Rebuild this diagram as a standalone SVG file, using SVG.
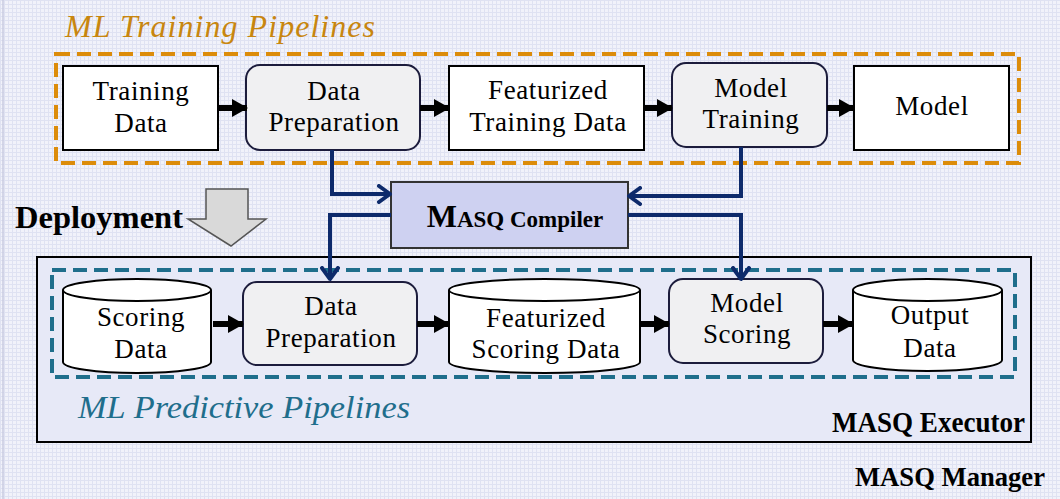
<svg xmlns="http://www.w3.org/2000/svg" width="1060" height="499" viewBox="0 0 1060 499">
<defs>
<pattern id="grid" width="4" height="4" patternUnits="userSpaceOnUse">
<rect width="4" height="4" fill="#f1f2fa"/>
<path d="M0 0.5H4M0.5 0V4" stroke="#dfe2f2" stroke-width="1"/>
</pattern>
<marker id="blk" viewBox="0 0 16 18" refX="15" refY="9" markerWidth="16" markerHeight="18" orient="auto" markerUnits="userSpaceOnUse">
<path d="M0 0L16 9L0 18Z" fill="#000"/>
</marker>
<marker id="nav" viewBox="0 0 16 20" refX="13" refY="10" markerWidth="16" markerHeight="20" orient="auto" markerUnits="userSpaceOnUse">
<path d="M2 2L13 10L2 18" fill="none" stroke="#0d2a6b" stroke-width="4" stroke-linecap="round" stroke-linejoin="round"/>
</marker>
</defs>
<style>
.lbl{font-family:"Liberation Serif",serif;font-size:27px;fill:#000;text-anchor:middle;letter-spacing:0.6px}
.box{fill:#fff;stroke:#000;stroke-width:2}
.rnd{fill:#f0f0f2;stroke:#1c1c3c;stroke-width:2}
.cyl{fill:#fff;stroke:#000;stroke-width:2}
.flow{stroke:#000;stroke-width:6;fill:none;marker-end:url(#blk)}
.nv{stroke:#0d2a6b;stroke-width:4;fill:none;marker-end:url(#nav)}
.bold{font-family:"Liberation Serif",serif;font-weight:bold;fill:#000}
</style>
<rect width="1060" height="499" fill="url(#grid)"/>
<line x1="3" y1="0" x2="3" y2="499" stroke="#c8cbe0" stroke-width="1.5"/>

<g id="executor">
<rect x="37" y="257" width="994" height="185" fill="#e7e9f7" stroke="#000" stroke-width="2"/>
<text class="bold" x="832" y="432" font-size="30" textLength="193" lengthAdjust="spacingAndGlyphs">MASQ Executor</text>
</g>
<g id="manager-label">
<text class="bold" x="855" y="486" font-size="28" textLength="190" lengthAdjust="spacingAndGlyphs">MASQ Manager</text>
</g>

<g id="training-pipelines">
<rect x="56" y="54" width="963" height="109" fill="none" stroke="#dc8c0a" stroke-width="4" stroke-dasharray="14,7"/>
<text x="65" y="37" font-family="Liberation Serif,serif" font-style="italic" font-size="32" fill="#c8860f" textLength="310" lengthAdjust="spacing">ML Training Pipelines</text>
</g>
<g id="predictive-pipelines">
<rect x="52" y="270" width="963" height="107" fill="none" stroke="#1f6e8c" stroke-width="4" stroke-dasharray="14,7"/>
<text x="78" y="418" font-family="Liberation Serif,serif" font-style="italic" font-size="32" fill="#1f6e8c" textLength="332" lengthAdjust="spacingAndGlyphs">ML Predictive Pipelines</text>
</g>

<g id="training-data">
<rect class="box" x="63" y="66" width="155" height="84"/>
<text class="lbl" x="141" y="100">Training</text>
<text class="lbl" x="141" y="132">Data</text>
</g>
<g id="data-prep-train">
<rect class="rnd" x="246" y="65" width="174" height="85" rx="14"/>
<text class="lbl" x="334" y="100">Data</text>
<text class="lbl" x="334" y="131">Preparation</text>
</g>
<g id="feat-train">
<rect class="box" x="449" y="66" width="195" height="84"/>
<text class="lbl" x="548" y="99">Featurized</text>
<text class="lbl" x="548" y="131">Training Data</text>
</g>
<g id="model-training">
<rect class="rnd" x="672" y="63" width="155" height="84" rx="14"/>
<text class="lbl" x="751" y="97">Model</text>
<text class="lbl" x="751" y="128">Training</text>
</g>
<g id="model">
<rect class="box" x="854" y="66" width="155" height="84"/>
<text class="lbl" x="932" y="115">Model</text>
</g>

<g id="compiler">
<rect x="391" y="182" width="237" height="66" fill="#ced1f1" stroke="#333" stroke-width="2"/>
<text class="bold" x="515" y="227" text-anchor="middle"><tspan font-size="32">M</tspan><tspan font-size="23">ASQ Compiler</tspan></text>
</g>

<g id="deployment">
<text x="15" y="228" font-family="Liberation Serif,serif" font-weight="bold" font-size="31" fill="#000" textLength="168" lengthAdjust="spacingAndGlyphs">Deployment</text>
<path d="M206 189H248V219H266L231 246L188 219H206Z" fill="#d9d9d9" stroke="#555" stroke-width="1.5"/>
</g>

<g id="scoring-data">
<path class="cyl" d="M63 290V362A74 11 0 0 0 211 362V290"/>
<ellipse class="cyl" cx="137" cy="290" rx="74" ry="11"/>
<text class="lbl" x="141" y="326">Scoring</text>
<text class="lbl" x="141" y="358">Data</text>
</g>
<g id="data-prep-score">
<rect class="rnd" x="243" y="282" width="174" height="83" rx="14"/>
<text class="lbl" x="331" y="315">Data</text>
<text class="lbl" x="331" y="347">Preparation</text>
</g>
<g id="feat-score">
<path class="cyl" d="M449 290V362A95.5 11 0 0 0 640 362V290"/>
<ellipse class="cyl" cx="544.5" cy="290" rx="95.5" ry="11"/>
<text class="lbl" x="546" y="327">Featurized</text>
<text class="lbl" x="546" y="358">Scoring Data</text>
</g>
<g id="model-scoring">
<rect class="rnd" x="669" y="279" width="154" height="84" rx="14"/>
<text class="lbl" x="747" y="312">Model</text>
<text class="lbl" x="747" y="343">Scoring</text>
</g>
<g id="output-data">
<path class="cyl" d="M853 290V360A74.5 11 0 0 0 1002 360V290"/>
<ellipse class="cyl" cx="927.5" cy="290" rx="74.5" ry="11"/>
<text class="lbl" x="930" y="324">Output</text>
<text class="lbl" x="930" y="357">Data</text>
</g>

<g id="connectors">
<line class="flow" x1="218" y1="108" x2="247" y2="108"/>
<line class="flow" x1="420" y1="108" x2="449" y2="108"/>
<line class="flow" x1="644" y1="108" x2="672" y2="108"/>
<line class="flow" x1="827" y1="108" x2="854" y2="108"/>
<line class="flow" x1="213" y1="324" x2="243" y2="324"/>
<line class="flow" x1="417" y1="324" x2="449" y2="324"/>
<line class="flow" x1="641" y1="324" x2="669" y2="324"/>
<line class="flow" x1="823" y1="324" x2="853" y2="324"/>
<polyline class="nv" points="332,150 332,194 390,194"/>
<polyline class="nv" points="741,147 741,196 629,196"/>
<polyline class="nv" points="391,215 330,215 330,279"/>
<polyline class="nv" points="628,215 741,215 741,279"/>
</g>
</svg>
